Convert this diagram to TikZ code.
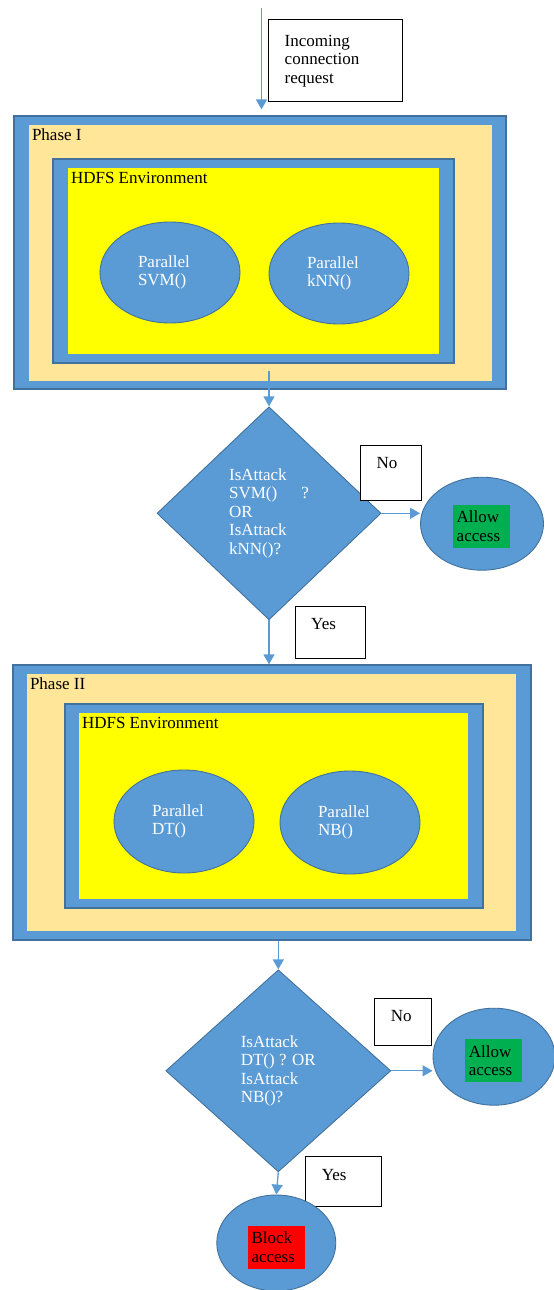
\documentclass[tikz,border=0pt]{standalone}
\usepackage{fontspec}
\setmainfont{Liberation Serif}
\usepackage{xcolor}
\usepackage{tikz}
\usetikzlibrary{
    arrows.meta,
    positioning,
    shapes.geometric,
    calc
}
\definecolor{boxblue}{HTML}{5B9BD5}
\definecolor{edgeblue}{HTML}{41719C}
\definecolor{sand}{HTML}{FFE699}
\definecolor{hdfsyellow}{HTML}{FFFF00}
\definecolor{okgreen}{HTML}{00B050}
\definecolor{denyred}{HTML}{FF0000}

\begin{document}
\begin{tikzpicture}[
        x=1pt, y=-1pt,
        font=\fontsize{17}{18.5}\selectfont,
        frame/.style={
            rectangle,
            draw=edgeblue,
            fill=boxblue,
            line width=1.2pt,
            inner sep=0pt
        },
        pane/.style={
            rectangle,
            fill=#1,
            inner sep=0pt
        },
        caption/.style={
            anchor=base west,
            inner sep=0pt
        },
        algo/.style={
            ellipse,
            draw=edgeblue,
            fill=boxblue,
            line width=0.9pt,
            inner sep=0pt,
            text=white,
            text width=64pt,
            align=left
        },
        check/.style={
            diamond,
            draw=edgeblue,
            fill=boxblue,
            line width=0.9pt,
            inner sep=0pt,
            text=white,
            align=left
        },
        result/.style={
            ellipse,
            draw=edgeblue,
            fill=boxblue,
            line width=0.9pt,
            inner sep=0pt
        },
        verdict/.style={
            rectangle,
            fill=#1,
            inner sep=4pt,
            text width=49pt,
            minimum height=43pt,
            align=left
        },
        tag/.style={
            rectangle,
            draw=black,
            fill=white,
            line width=0.8pt,
            inner xsep=16pt,
            inner ysep=6pt,
            align=left,
            text height=17.5pt,
            text depth=#1
        },
        line/.style={
            -{Triangle[length=10pt, width=11pt]},
            draw=boxblue,
            line width=1.3pt
        }
    ]

    \useasboundingbox (0,0) rectangle (554,1290);

    \node[frame, minimum width=492pt, minimum height=273pt] (phaseA)
        at (260,252.5) {};
    \node[pane=sand, minimum width=463pt, minimum height=256pt] (sandA)
        at (260.5,253) {};
    \node[frame, minimum width=401pt, minimum height=204pt] (envframeA)
        at (253.5,261) {};
    \node[pane=hdfsyellow, minimum width=371pt, minimum height=186pt] (envA)
        at (253.5,261) {};
    \node[caption] (phaseAtext) at ($(sandA.north west)+(3,15.5)$)
        {Phase I};
    \node[caption] (envAtext) at ($(envA.north west)+(3,15.5)$)
        {HDFS Environment};

    \node[algo, minimum width=140pt, minimum height=101pt] (svm)
        at (170,272.5) {Parallel\\SVM()};
    \node[algo, minimum width=140pt, minimum height=101pt] (knn)
        at (339,273.5) {Parallel\\kNN()};

    \node[frame, minimum width=518pt, minimum height=275pt] (phaseB)
        at (272,802.5) {};
    \node[pane=sand, minimum width=489pt, minimum height=257pt] (sandB)
        at (271.5,802.5) {};
    \node[frame, minimum width=418pt, minimum height=204pt] (envframeB)
        at (274,806) {};
    \node[pane=hdfsyellow, minimum width=389pt, minimum height=186pt] (envB)
        at (273.5,806) {};
    \node[caption] (phaseBtext) at ($(sandB.north west)+(3,15.5)$)
        {Phase II};
    \node[caption] (envBtext) at ($(envB.north west)+(3,15.5)$)
        {HDFS Environment};

    \node[algo, minimum width=140pt, minimum height=103pt] (dt)
        at (184,821.5) {Parallel\\DT()};
    \node[algo, minimum width=140pt, minimum height=103pt] (nb)
        at (350,822.5) {Parallel\\NB()};

    \node[check, minimum width=224pt, minimum height=213pt] (decA)
        at (269,513.3)
        {IsAttack\\SVM()\hspace{24pt}?\\OR\\IsAttack\\kNN()?};
    \node[result, minimum width=123pt, minimum height=93pt] (allowA)
        at (482,523.7) {};
    \node[verdict=okgreen] (grantA)
        at (481.2,526) {Allow\\access};

    \node[check, minimum width=225pt, minimum height=202pt] (decB)
        at (278.3,1070.8)
        {IsAttack\\DT() ? OR\\IsAttack\\NB()?};
    \node[result, minimum width=122pt, minimum height=97pt] (allowB)
        at (494,1056.7) {};
    \node[verdict=okgreen] (grantB)
        at (493.3,1060.7) {Allow\\access};

    \node[rectangle, draw=black, fill=white, line width=0.8pt,
          inner xsep=16pt, text width=102pt, minimum height=82pt,
          align=left] (incoming)
        at (335.7,60.8) {Incoming\\connection\\request};
    \node[tag=25.5pt, text width=29pt] (noA)
        at (391.2,472.5) {No};
    \node[tag=22.5pt, text width=38pt] (yesA)
        at (330.2,632.2) {Yes};
    \node[tag=17.5pt, text width=25pt] (noB)
        at (403.3,1021.7) {No};
    \node[tag=20.5pt, text width=44pt] (yesB)
        at (343.8,1181.7) {Yes};

    \node[result, minimum width=119pt, minimum height=96pt] (block)
        at (276.3,1243) {};
    \node[verdict=denyred] (deny)
        at (276,1247) {Block\\access};

    \coordinate (entry) at (261.5,8);

    \draw[line] (entry) -- ($(phaseA.north -| entry)+(0,-6)$);
    \draw[line] ($(envframeA.south -| decA.north)+(0,7)$) -- (decA.north);
    \draw[line] (decA.east) -- (decA.east -| allowA.west);
    \draw[line] (decA.south) -- (decA.south |- phaseB.north);
    \draw[line] (phaseB.south -| decB.north) -- (decB.north);
    \draw[line] (decB.east) -- (decB.east -| allowB.west);
    \draw[line] (decB.south) -- (block.north);

    \end{tikzpicture}
\end{document}
